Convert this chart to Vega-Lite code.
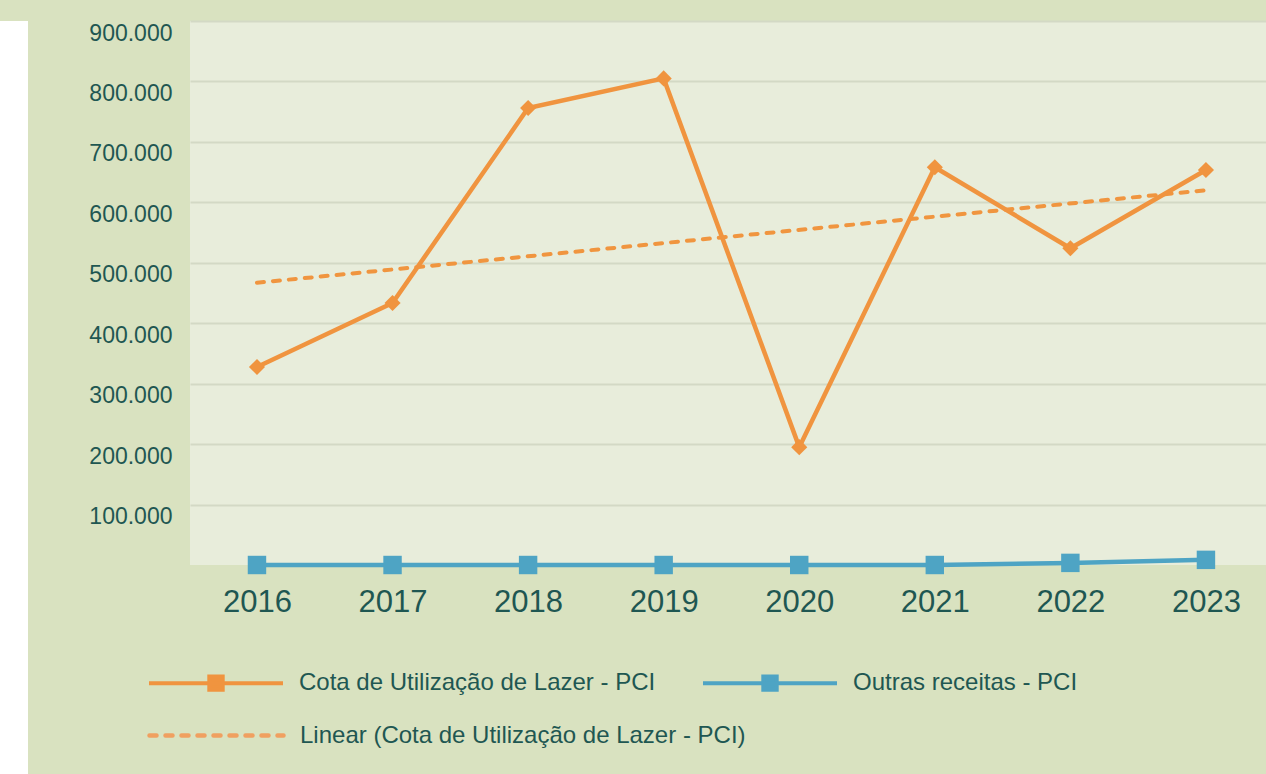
{
  "$schema": "https://vega.github.io/schema/vega-lite/v6.json",
  "padding": {"left": 0, "top": 21, "right": 0, "bottom": 0},
  "background": "#d9e2c0",
  "spacing": 60,
  "config": {
    "locale": {"number": {"decimal": ",", "thousands": ".", "grouping": [3], "currency": ["R$", ""]}},
    "font": "Liberation Sans"
  },
  "datasets": {
    "main": [
      {"ano": 2016, "valor": 327600, "serie": "Cota de Utilização de Lazer - PCI"},
      {"ano": 2017, "valor": 433500, "serie": "Cota de Utilização de Lazer - PCI"},
      {"ano": 2018, "valor": 756000, "serie": "Cota de Utilização de Lazer - PCI"},
      {"ano": 2019, "valor": 805000, "serie": "Cota de Utilização de Lazer - PCI"},
      {"ano": 2020, "valor": 195000, "serie": "Cota de Utilização de Lazer - PCI"},
      {"ano": 2021, "valor": 658000, "serie": "Cota de Utilização de Lazer - PCI"},
      {"ano": 2022, "valor": 524000, "serie": "Cota de Utilização de Lazer - PCI"},
      {"ano": 2023, "valor": 653500, "serie": "Cota de Utilização de Lazer - PCI"},
      {"ano": 2016, "valor": 0, "serie": "Outras receitas - PCI"},
      {"ano": 2017, "valor": 0, "serie": "Outras receitas - PCI"},
      {"ano": 2018, "valor": 0, "serie": "Outras receitas - PCI"},
      {"ano": 2019, "valor": 0, "serie": "Outras receitas - PCI"},
      {"ano": 2020, "valor": 0, "serie": "Outras receitas - PCI"},
      {"ano": 2021, "valor": 0, "serie": "Outras receitas - PCI"},
      {"ano": 2022, "valor": 3500, "serie": "Outras receitas - PCI"},
      {"ano": 2023, "valor": 8500, "serie": "Outras receitas - PCI"}
    ],
    "trend": [
      {"ano": 2016, "valor": 467000, "serie": "Linear (Cota de Utilização de Lazer - PCI)"},
      {"ano": 2023, "valor": 620000, "serie": "Linear (Cota de Utilização de Lazer - PCI)"}
    ]
  },
  "hconcat": [
    {
      "width": 28,
      "height": 753,
      "view": {"fill": "#ffffff", "stroke": null},
      "data": {"values": [{"a": 1}]},
      "mark": {"type": "point", "opacity": 0},
      "encoding": {}
    },
    {
      "width": 1076,
      "height": 544,
      "view": {"fill": "#e8eddb", "stroke": null},
      "encoding": {
        "x": {
          "field": "ano", "type": "quantitative",
          "scale": {"domain": [2015.506, 2023.443], "nice": false, "zero": false},
          "axis": {"title": null, "values": [2016,2017,2018,2019,2020,2021,2022,2023], "format": "d", "labelFlush": false, "labelAngle": 0, "labelFontSize": 31, "labelColor": "#1f5752", "labelPadding": 22, "domain": false, "ticks": false, "tickSize": 0, "grid": false}
        },
        "y": {
          "field": "valor", "type": "quantitative",
          "scale": {"domain": [0, 900000], "nice": false, "zero": true},
          "axis": {"title": null, "values": [100000,200000,300000,400000,500000,600000,700000,800000,900000], "format": ",d", "labelFontSize": 23, "labelColor": "#1f5752", "labelOffset": 12, "labelPadding": 18, "domain": false, "ticks": false, "tickSize": 0, "grid": true, "gridColor": "#d3d9c5", "gridWidth": 2}
        }
      },
      "layer": [
        {
          "data": {"name": "trend"},
          "mark": {"type": "line", "color": "#f0953f", "strokeWidth": 4, "strokeCap": "round"},
          "encoding": {
            "strokeDash": {
              "field": "serie", "type": "nominal",
              "scale": {"range": [[7, 9]]},
              "legend": {"title": null, "orient": "none", "legendX": 147, "legendY": 645, "symbolType": "M-1,0H1", "symbolSize": 17956, "symbolStrokeColor": "#f0a060", "symbolStrokeWidth": 4.5, "symbolDash": [7, 9], "labelFontSize": 24, "labelColor": "#1f5752", "labelOffset": 14, "labelLimit": 800,
                "encode": {"symbols": {"update": {"strokeCap": {"value": "round"}}}}}
            }
          }
        },
        {
          "data": {"name": "main"},
          "mark": {"type": "line", "strokeWidth": 4.5},
          "encoding": {
            "color": {
              "field": "serie", "type": "nominal",
              "scale": {"domain": ["Cota de Utilização de Lazer - PCI", "Outras receitas - PCI"], "range": ["#f0943f", "#4ea4c4"]},
              "legend": {"title": null, "orient": "none", "direction": "horizontal", "legendX": 147, "legendY": 593, "symbolType": "M-1,0H1M-0.1,-0.1H0.1V0.1H-0.1Z", "symbolSize": 17956, "symbolStrokeWidth": 4, "columnPadding": 39, "labelFontSize": 24, "labelColor": "#1f5752", "labelOffset": 14, "labelLimit": 800,
                "encode": {"symbols": {"update": {"fill": [{"test": "datum.value === 'Cota de Utilização de Lazer - PCI'", "value": "#e07a00"}, {"scale": "color", "field": "value"}], "stroke": {"scale": "color", "field": "value"}, "opacity": {"value": 1}}}}}
            }
          }
        },
        {
          "data": {"name": "main"},
          "transform": [{"filter": "datum.serie == 'Cota de Utilização de Lazer - PCI'"}],
          "mark": {"type": "point", "shape": "diamond", "filled": true, "opacity": 1, "size": 260},
          "encoding": {"color": {"field": "serie", "type": "nominal"}}
        },
        {
          "data": {"name": "main"},
          "transform": [{"filter": "datum.serie == 'Outras receitas - PCI'"}],
          "mark": {"type": "point", "shape": "square", "filled": true, "opacity": 1, "size": 340, "color": "#3aa1cb"},
          "encoding": {"color": {"field": "serie", "type": "nominal"}}
        }
      ]
    }
  ]
}
